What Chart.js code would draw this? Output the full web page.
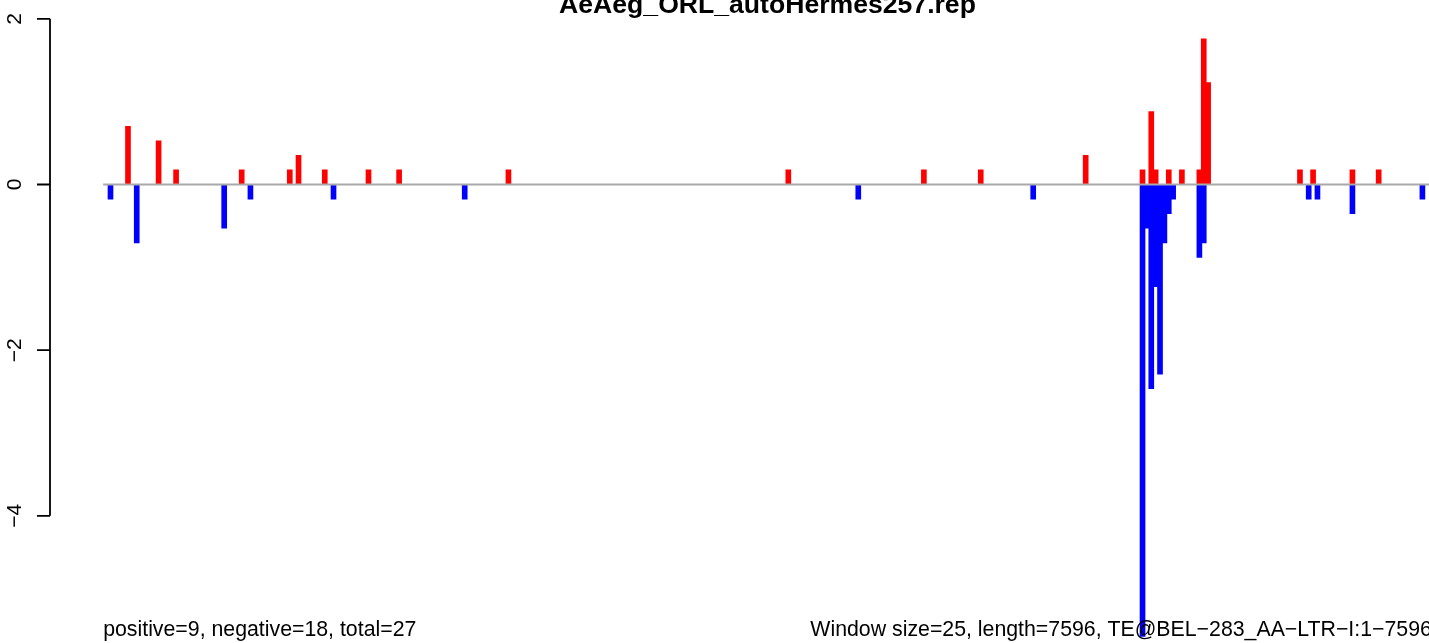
<!DOCTYPE html>
<html>
<head>
<meta charset="utf-8">
<script src="https://cdn.jsdelivr.net/npm/chart.js@4.4.1/dist/chart.umd.min.js"></script>
<style>
  html, body { margin: 0; padding: 0; overflow: hidden; background: #ffffff; width: 1429px; height: 643px; }
  #wrap { position: absolute; left: 0; top: 0; width: 1535px; height: 700px; }
  canvas { display: block; }
</style>
</head>
<body>
<div id="wrap"><canvas id="c" width="1535" height="700" style="width:1535px;height:700px"></canvas></div>
<script>
// ---- chart texts ----
const titleText = "AeAeg_ORL_autoHermes257.rep";
const leftNote = "positive=9, negative=18, total=27";
const rightNote = "Window size=25, length=7596, TE@BEL\u2212283_AA\u2212LTR\u2212I:1\u22127596";

// ---- sequence extent (bp) ----
const seqStart = 0;
const seqEnd = 7596;

// ---- y axis ticks ----
const yTicks = [2, 0, -2, -4];
const yTickLabels = ["2", "0", "\u22122", "\u22124"];

// ---- positive strand (red) : positions (bp) and values ----
const posX = [142, 317, 417, 792, 1067, 1117, 1267, 1517, 1692, 2317,
              3917, 4692, 5017, 5617,
              5942, 5992, 6017, 6092, 6167, 6267, 6292, 6317,
              6842, 6917, 7142, 7292];
const posY = [0.704, 0.528, 0.176, 0.176, 0.176, 0.352, 0.176, 0.176, 0.176, 0.176,
              0.176, 0.176, 0.176, 0.352,
              0.176, 0.88, 0.176, 0.176, 0.176, 0.176, 1.76, 1.232,
              0.176, 0.176, 0.176, 0.176];

// ---- negative strand (blue) : positions (bp) and values ----
const negX = [42, 192, 692, 842, 1317, 2067, 4317, 5317,
              5942, 5967, 5992, 6017, 6042, 6067, 6092, 6117, 6267, 6292,
              6892, 6942, 7142, 7542];
const negY = [-0.176, -0.704, -0.528, -0.176, -0.176, -0.176, -0.176, -0.176,
              -5.456, -0.528, -2.464, -1.232, -2.288, -0.704, -0.352, -0.176, -0.88, -0.704,
              -0.176, -0.176, -0.352, -0.176];

// ---- axis ranges (R style: data range + 4%) ----
const xMin = -303.84, xMax = 7899.84;
const yMin = -5.745, yMax = 2.049;

const FONT = '"Liberation Sans", Arial, Helvetica, sans-serif';

const rPlot = {
  id: 'rPlot',
  afterDatasetsDraw(chart) {
    const { ctx, chartArea } = chart;
    const xs = chart.scales.x, ys = chart.scales.y;
    ctx.save();
    // zero line
    ctx.strokeStyle = '#a9a9a9';
    ctx.lineWidth = 2;
    ctx.beginPath();
    ctx.moveTo(xs.getPixelForValue(seqStart), ys.getPixelForValue(0));
    ctx.lineTo(xs.getPixelForValue(seqEnd), ys.getPixelForValue(0));
    ctx.stroke();

    // y axis (R style)
    const ax = chartArea.left;
    ctx.strokeStyle = '#000000';
    ctx.lineWidth = 1.8;
    ctx.beginPath();
    ctx.moveTo(ax, ys.getPixelForValue(yTicks[0]));
    ctx.lineTo(ax, ys.getPixelForValue(yTicks[yTicks.length - 1]));
    yTicks.forEach(v => {
      const py = ys.getPixelForValue(v);
      ctx.moveTo(ax, py);
      ctx.lineTo(ax - 13, py);
    });
    ctx.stroke();

    ctx.fillStyle = '#000000';
    ctx.font = '21px ' + FONT;
    ctx.textAlign = 'center';
    ctx.textBaseline = 'alphabetic';
    yTicks.forEach((v, i) => {
      ctx.save();
      ctx.translate(ax - 29.5, ys.getPixelForValue(v));
      ctx.rotate(-Math.PI / 2);
      ctx.fillText(yTickLabels[i], 0, 0);
      ctx.restore();
    });

    // title
    ctx.font = 'bold 26.6px ' + FONT;
    ctx.textAlign = 'center';
    ctx.fillText(titleText, (chartArea.left + chartArea.right) / 2, 13);

    // bottom notes
    ctx.font = '21.3px ' + FONT;
    ctx.textAlign = 'left';
    ctx.fillText(leftNote, xs.getPixelForValue(seqStart), 636);
    ctx.textAlign = 'right';
    ctx.fillText(rightNote, xs.getPixelForValue(seqEnd), 636);
    ctx.restore();
  }
};

new Chart(document.getElementById('c').getContext('2d'), {
  type: 'bar',
  data: {
    datasets: [
      {
        label: 'positive',
        data: posX.map((x, i) => ({ x: x, y: posY[i] })),
        backgroundColor: '#ff0000',
        borderWidth: 0,
        barThickness: 5,
        grouped: false
      },
      {
        label: 'negative',
        data: negX.map((x, i) => ({ x: x, y: negY[i] })),
        backgroundColor: '#0000ff',
        borderWidth: 0,
        barThickness: 5,
        grouped: false
      }
    ]
  },
  options: {
    responsive: false,
    maintainAspectRatio: false,
    animation: false,
    devicePixelRatio: 1,
    layout: { padding: { left: 50, right: 50, top: 14.8, bottom: 39.6 } },
    scales: {
      x: { type: 'linear', min: xMin, max: xMax, offset: false, display: false },
      y: { type: 'linear', min: yMin, max: yMax, display: false }
    },
    plugins: {
      legend: { display: false },
      tooltip: { enabled: false },
      title: { display: false }
    }
  },
  plugins: [rPlot]
});
</script>
</body>
</html>
